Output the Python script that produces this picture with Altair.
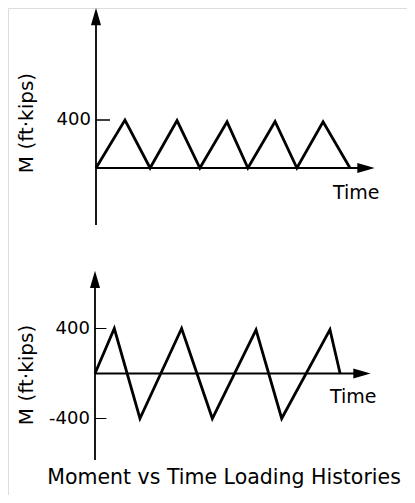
import altair as alt
import pandas as pd

# ---- data ----
# Upper history: moment cycling between 0 and +400 ft-kips
top_time = [0, 1.14, 2.13, 3.19, 4.09, 5.16, 5.98, 7.05, 7.91, 8.94, 10.0]
top_moment = [0, 400, 0, 395, 0, 385, 0, 388, 0, 385, 0]
top_tick_values = [400]
top_tick_labels = ["400"]

# Lower history: fully reversed moment between +400 and -400 ft-kips
bot_time = [0, 0.76, 1.77, 3.41, 4.62, 6.34, 7.35, 9.25, 9.65]
bot_moment = [0, 400, -400, 400, -400, 388, -400, 390, 0]
bot_tick_values = [400, -400]
bot_tick_labels = ["400", "-400"]

y_title = "M (ft·kips)"
x_title = "Time"
caption = "Moment vs Time Loading Histories"

FONT = "DejaVu Sans"
ARROW = "M0,-1L0.58,1L-0.58,1Z"


def sc(domain, rng):
    return alt.Scale(domain=domain, range=rng, nice=False, zero=False)


def panel(times, moments, ticks, labels, xs, ys, ax_lo, ax_hi, base_hi,
          label_dx, time_pos, ylab_pos, tick_len, tick_w, extra=None):
    X = lambda f: alt.X(f, type="quantitative", scale=xs, axis=None)
    Y = lambda f: alt.Y(f, type="quantitative", scale=ys, axis=None)
    layers = []
    line_df = pd.DataFrame({"t": times, "m": moments, "i": range(len(times))})
    layers.append(
        alt.Chart(line_df).mark_line(color="black", strokeWidth=2.8,
                                     strokeJoin="miter")
        .encode(x=X("t"), y=Y("m"), order="i:Q"))
    # vertical axis
    layers.append(
        alt.Chart(pd.DataFrame({"t": [0], "m": [ax_lo], "m2": [ax_hi]}))
        .mark_rule(color="black", strokeWidth=1.8)
        .encode(x=X("t"), y=Y("m"), y2="m2"))
    # horizontal (time) axis
    layers.append(
        alt.Chart(pd.DataFrame({"t": [0], "t2": [base_hi], "m": [0]}))
        .mark_rule(color="black", strokeWidth=1.8)
        .encode(x=X("t"), x2="t2", y=Y("m")))
    # arrow heads
    layers.append(
        alt.Chart(pd.DataFrame({"t": [0], "m": [ax_hi]}))
        .mark_point(shape=ARROW, filled=True, size=300, color="black",
                    opacity=1, strokeWidth=0)
        .encode(x=X("t"), y=Y("m")))
    layers.append(
        alt.Chart(pd.DataFrame({"t": [base_hi], "m": [0]}))
        .mark_point(shape=ARROW, filled=True, size=300, color="black",
                    opacity=1, strokeWidth=0, angle=90)
        .encode(x=X("t"), y=Y("m")))
    # ticks and tick labels
    tk = pd.DataFrame({"t": [0] * len(ticks), "t2": [tick_len] * len(ticks),
                       "m": ticks, "lab": labels, "tl": [label_dx] * len(ticks)})
    layers.append(
        alt.Chart(tk).mark_rule(color="black", strokeWidth=tick_w)
        .encode(x=X("t"), x2="t2", y=Y("m")))
    layers.append(
        alt.Chart(tk).mark_text(align="right", baseline="middle", font=FONT,
                                fontSize=18, color="black")
        .encode(x=X("tl"), y=Y("m"), text="lab:N"))
    # "Time"
    layers.append(
        alt.Chart(pd.DataFrame({"t": [time_pos[0]], "m": [time_pos[1]],
                                "s": [x_title]}))
        .mark_text(align="left", baseline="alphabetic", font=FONT,
                   fontSize=19, color="black")
        .encode(x=X("t"), y=Y("m"), text="s:N"))
    # y title
    layers.append(
        alt.Chart(pd.DataFrame({"t": [ylab_pos[0]], "m": [ylab_pos[1]],
                                "s": [y_title]}))
        .mark_text(align="center", baseline="middle", font=FONT,
                   fontSize=20, angle=270, color="black")
        .encode(x=X("t"), y=Y("m"), text="s:N"))
    if extra is not None:
        layers.append(
            alt.Chart(pd.DataFrame({"t": [extra[0]], "m": [extra[1]],
                                    "s": [caption]}))
            .mark_text(align="center", baseline="alphabetic", font=FONT,
                       fontSize=20.5, color="black")
            .encode(x=X("t"), y=Y("m"), text="s:N"))
    return layers


top_layers = panel(top_time, top_moment, top_tick_values, top_tick_labels,
                   sc([0, 10], [88, 342]), sc([0, 400], [160, 112]),
                   ax_lo=-475, ax_hi=1262, base_hi=10.63, label_dx=-0.2,
                   time_pos=(9.33, -258), ylab_pos=(-2.7, 375),
                   tick_len=0.55, tick_w=1.5)

bot_layers = panel(bot_time, bot_moment, bot_tick_values, bot_tick_labels,
                   sc([0, 10], [87, 341]), sc([-400, 400], [410.5, 320.5]),
                   ax_lo=-769, ax_hi=836, base_hi=10.51, label_dx=-0.2,
                   time_pos=(9.25, -260), ylab_pos=(-2.66, -13),
                   tick_len=0.45, tick_w=1.0, extra=(5.08, -985))

chart = (
    alt.layer(*(top_layers + bot_layers))
    .resolve_scale(x="independent", y="independent")
    .properties(width=399, height=487,
                autosize=alt.AutoSizeParams(type="none"), padding=0)
    .configure_view(strokeWidth=0)
    .configure(background="white")
)

chart.save("out.html", embed_options={"renderer": "svg", "actions": False})
